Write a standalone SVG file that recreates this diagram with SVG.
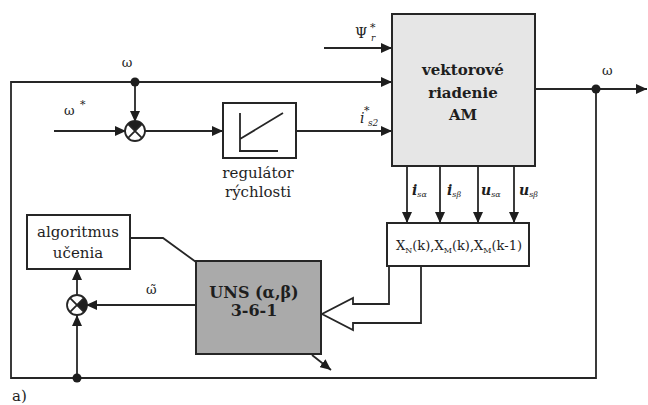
<svg xmlns="http://www.w3.org/2000/svg" width="648" height="405" viewBox="0 0 648 405">
<defs>
<marker id="arr" markerUnits="userSpaceOnUse" markerWidth="11" markerHeight="10" refX="11" refY="5" orient="auto">
<path d="M0,0 L11,5 L0,10 Z" fill="#1e1e1e"/>
</marker>
<style>
.ln{fill:none;stroke:#262626;stroke-width:1.8}
.bx{stroke:#262626;stroke-width:2}
.t{font-family:"DejaVu Serif","Liberation Serif",serif;fill:#1e1e1e}
.b{font-weight:bold}
.i{font-style:italic}
.dot{fill:#1e1e1e}
</style>
</defs>
<rect width="648" height="405" fill="#ffffff"/>

<g id="connectors">
<path class="ln" d="M596,89 L596,378 L11,378 L11,82 L392,82" marker-end="url(#arr)"/>
<path class="ln" d="M135,82 L135,122" marker-end="url(#arr)"/>
<path class="ln" d="M54,131 L126,131" marker-end="url(#arr)"/>
<path class="ln" d="M145,131 L223,131" marker-end="url(#arr)"/>
<path class="ln" d="M296,131 L392,131" marker-end="url(#arr)"/>
<path class="ln" d="M324,48 L392,48" marker-end="url(#arr)"/>
<path class="ln" d="M535,89 L647,89" marker-end="url(#arr)"/>
<path class="ln" d="M407,166 L407,223" marker-end="url(#arr)"/>
<path class="ln" d="M440,166 L440,223" marker-end="url(#arr)"/>
<path class="ln" d="M478,166 L478,223" marker-end="url(#arr)"/>
<path class="ln" d="M514,166 L514,223" marker-end="url(#arr)"/>
<path class="ln" d="M196,305 L86,305" marker-end="url(#arr)"/>
<path class="ln" d="M77,295 L77,269" marker-end="url(#arr)"/>
<path class="ln" d="M77,378 L77,315" marker-end="url(#arr)"/>
<path class="ln" d="M130,238 L163,238 L196,262"/>
<path class="ln" d="M312,355 L331,370" marker-end="url(#arr)"/>
<polygon class="ln" fill="#ffffff" points="389,266 389,304 353,304 353,298 322,314 353,330 353,323 421,323 421,266"/>
<circle class="dot" cx="135" cy="82" r="4.5"/>
<circle class="dot" cx="596" cy="89" r="4.5"/>
<circle class="dot" cx="77" cy="378" r="4.5"/>
</g>

<g id="sum1">
<circle class="ln" cx="135" cy="131" r="10" fill="#ffffff"/>
<path d="M135,131 L127.9,123.9 A10,10 0 0 1 142.1,123.9 Z" fill="#1e1e1e"/>
<path class="ln" d="M127.9,123.9 L142.1,138.1 M142.1,123.9 L127.9,138.1"/>
</g>

<g id="sum2">
<circle class="ln" cx="77" cy="305" r="10" fill="#ffffff"/>
<path d="M77,305 L84.1,297.9 A10,10 0 0 1 84.1,312.1 Z" fill="#1e1e1e"/>
<path class="ln" d="M69.9,297.9 L84.1,312.1 M84.1,297.9 L69.9,312.1"/>
</g>

<g id="regulator">
<rect class="bx" x="223" y="103" width="73" height="55" fill="#ffffff"/>
<path class="ln" d="M240,113 L240,152 M239,151 L278,151 M240,139 L283,113"/>
<text class="t" x="258" y="178" font-size="15" text-anchor="middle">regulátor</text>
<text class="t" x="258" y="197" font-size="15" text-anchor="middle">rýchlosti</text>
</g>

<g id="vector">
<rect class="bx" x="392" y="14" width="143" height="152" fill="#e6e6e6"/>
<text class="t b" x="463" y="75" font-size="15" text-anchor="middle">vektorové</text>
<text class="t b" x="463" y="98" font-size="15" text-anchor="middle">riadenie</text>
<text class="t b" x="463" y="120" font-size="15" text-anchor="middle">AM</text>
</g>

<g id="xbox">
<rect class="bx" x="387" y="223" width="142" height="43" fill="#ffffff"/>
<text class="t" x="459" y="250" font-size="13" text-anchor="middle">X<tspan font-size="8" dy="3">N</tspan><tspan dy="-3">(k),X</tspan><tspan font-size="8" dy="3">M</tspan><tspan dy="-3">(k),X</tspan><tspan font-size="8" dy="3">M</tspan><tspan dy="-3">(k-1)</tspan></text>
</g>

<g id="uns">
<rect class="bx" x="196" y="261" width="125" height="93" fill="#aaaaaa"/>
<text class="t b" x="254" y="298" font-size="16" text-anchor="middle">UNS (α,β)</text>
<text class="t b" x="254" y="316" font-size="16" text-anchor="middle">3-6-1</text>
</g>

<g id="algoritmus">
<rect class="bx" x="27" y="215" width="103" height="54" fill="#ffffff"/>
<text class="t" x="78" y="237" font-size="15" text-anchor="middle">algoritmus</text>
<text class="t" x="78" y="258" font-size="15" text-anchor="middle">učenia</text>
</g>

<g id="labels">
<text class="t" x="127" y="67" font-size="13" text-anchor="middle">ω</text>
<text class="t" x="64" y="115" font-size="13">ω</text>
<text class="t" x="80" y="108" font-size="11">*</text>
<text class="t" x="602" y="75" font-size="13">ω</text>
<text class="t" x="146" y="294" font-size="13">ω̃</text>
<text class="t" x="355" y="38" font-size="14">Ψ</text>
<text class="t" x="370" y="31" font-size="11">*</text>
<text class="t i" x="371" y="41" font-size="9">r</text>
<text class="t i" x="360" y="123" font-size="14">i</text>
<text class="t" x="364" y="114" font-size="11">*</text>
<text class="t i" x="368" y="126" font-size="9">s2</text>
<text class="t i b" x="412" y="195" font-size="14">i<tspan font-size="8" font-weight="normal" dy="2">sα</tspan></text>
<text class="t i b" x="447" y="195" font-size="14">i<tspan font-size="8" font-weight="normal" dy="2">sβ</tspan></text>
<text class="t i b" x="481" y="195" font-size="14">u<tspan font-size="8" font-weight="normal" dy="2">sα</tspan></text>
<text class="t i b" x="519" y="195" font-size="14">u<tspan font-size="8" font-weight="normal" dy="2">sβ</tspan></text>
<text class="t" x="12" y="401" font-size="15">a)</text>
</g>
</svg>
